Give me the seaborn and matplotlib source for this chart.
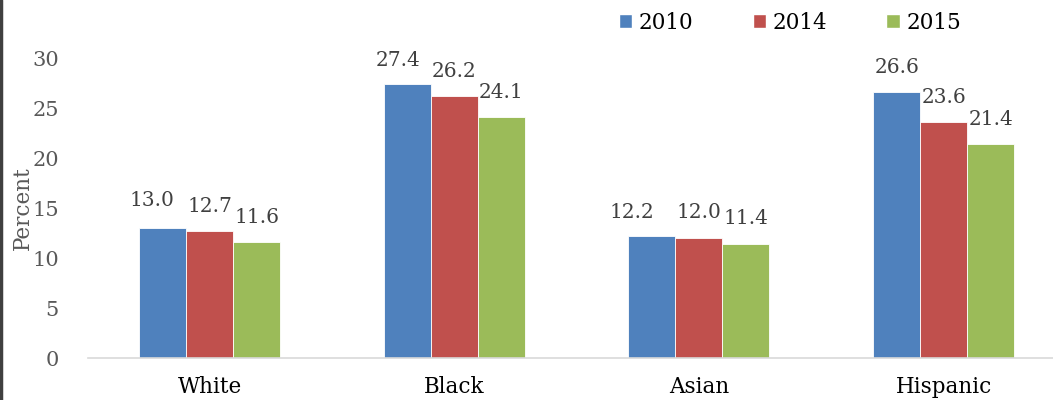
#!/usr/bin/env python3

import seaborn as sns
import matplotlib.pyplot as plt
import pandas as pd
from matplotlib.patches import Patch
from matplotlib.lines import Line2D

# data
groups = ['White', 'Black', 'Asian', 'Hispanic']
years = ['2010', '2014', '2015']
vals_2010 = [13.0, 27.4, 12.2, 26.6]
vals_2014 = [12.7, 26.2, 12.0, 23.6]
vals_2015 = [11.6, 24.1, 11.4, 21.4]

# hand-placed label nudges (pixels), one row per year like in the original
label_dx = [[-11, -9, -20, 0], [0, 0, 0, 0], [0, 0, 0, 0]]
label_dy = [[22, 18, 18, 19], [19, 19, 20, 19], [19, 19, 20, 19]]

office_blue = '#4F81BD'
office_red = '#C0504D'
office_green = '#9BBB59'
tick_gray = '#595959'
label_gray = '#404040'

df = pd.DataFrame({
    'group': groups * 3,
    'year': [years[0]] * 4 + [years[1]] * 4 + [years[2]] * 4,
    'value': vals_2010 + vals_2014 + vals_2015,
})

sns.set_style('white')
plt.rcParams['font.family'] = ['DejaVu Serif']

fig = plt.figure(figsize=(10.53, 4), dpi=100)
ax = fig.add_axes([88 / 1053, 0.105, 1 - 88 / 1053, 0.75])

sns.barplot(data=df, x='group', y='value', hue='year', hue_order=years,
            order=groups, palette=[office_blue, office_red, office_green],
            width=0.576, gap=0, ax=ax, edgecolor='white', linewidth=0.6,
            saturation=1, legend=False)

#data labels
for i, cont in enumerate(ax.containers):
    for j, bar in enumerate(cont):
        h = bar.get_height()
        ax.annotate(f'{h:.1f}', xy=(bar.get_x() + bar.get_width() / 2, h),
                    xytext=(label_dx[i][j], label_dy[i][j]), textcoords='offset pixels',
                    ha='center', va='baseline', fontsize=14.5, color=label_gray)

ax.set_ylim(0, 30)
ax.set_yticks([0, 5, 10, 15, 20, 25, 30])
ax.set_xlim(-0.497, 3.447)
ax.tick_params(axis='y', labelsize=15, labelcolor=tick_gray, length=0, pad=21)
ax.tick_params(axis='x', labelsize=15.5, labelcolor='black', length=0, pad=13)
ax.set_xlabel('')
ax.set_ylabel('Percent', fontsize=15.5, color=tick_gray)
ax.yaxis.set_label_coords(-0.056, 0.5)

for side in ['top', 'right', 'left']:
    ax.spines[side].set_visible(False)
ax.spines['bottom'].set_color('#D9D9D9')
ax.spines['bottom'].set_linewidth(1.2)

handles = [Patch(facecolor=c) for c in [office_blue, office_red, office_green]]
fig.legend(handles=handles, labels=years, loc='center left',
           bbox_to_anchor=(619 / 1053, 1 - 23 / 400), ncol=3, frameon=False,
           fontsize=15.5, labelcolor='black', handlelength=0.62, handleheight=0.62,
           handletextpad=0.3, columnspacing=2.75, borderpad=0, borderaxespad=0)

# dark frame edge on the left
fig.add_artist(Line2D([0.0012, 0.0012], [0, 1], transform=fig.transFigure,
                      color='#404040', linewidth=2.5))

plt.savefig('out.png', dpi=100)
